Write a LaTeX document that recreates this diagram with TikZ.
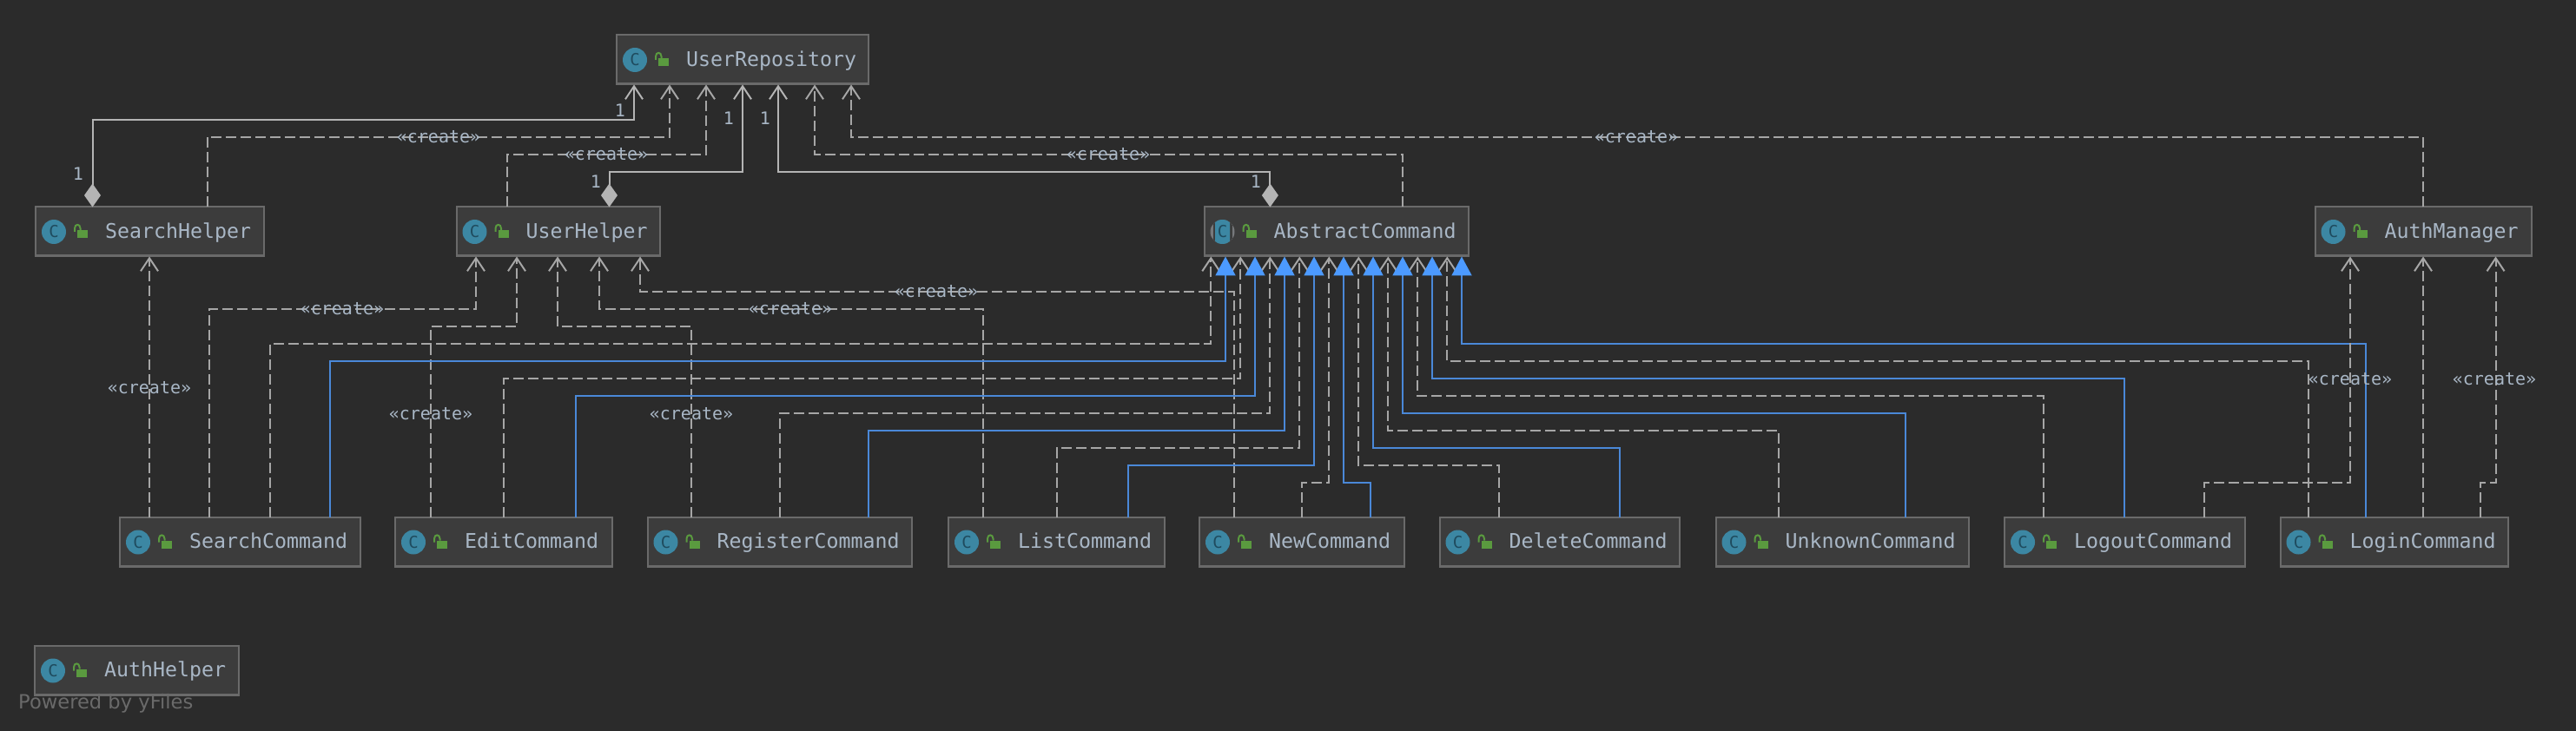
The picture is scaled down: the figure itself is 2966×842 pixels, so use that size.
\documentclass[tikz,border=0pt]{standalone}
\usepackage{fontspec}
\usetikzlibrary{arrows.meta,positioning}
\newfontfamily\umlfont{DejaVu Sans Mono}
\newfontfamily\markfont{DejaVu Sans}
\definecolor{canvasbg}{HTML}{2B2B2B}
\definecolor{boxfill}{HTML}{3C3C3C}
\definecolor{boxedge}{HTML}{6A6A6A}
\definecolor{nametext}{HTML}{A9B7C6}
\definecolor{edgegray}{HTML}{B4B4B4}
\definecolor{implblue}{HTML}{4A88D8}
\definecolor{tipblue}{HTML}{4C9AFF}
\definecolor{iconteal}{HTML}{3C87A3}
\definecolor{icondark}{HTML}{1F4B5E}
\definecolor{lockgreen}{HTML}{5A9A3F}
\tikzset{
  classbox/.style={draw=boxedge,fill=boxfill,line width=2pt,minimum height=57pt,inner sep=0pt,outer sep=0pt,anchor=west},
  classname/.style={text=nametext,font=\umlfont\fontsize{23.25}{28}\selectfont,inner sep=0pt,anchor=west,text height=19.7pt,text depth=5.2pt},
  classicon/.style={circle,fill=iconteal,minimum size=28pt,inner sep=0pt,text=icondark,font=\umlfont\fontsize{19}{20}\selectfont},
  abstracticon/.style={classicon,fill=boxedge!80!nametext,path picture={
    \fill[boxfill] ([xshift=-11pt,yshift=-15pt]path picture bounding box.center) rectangle ([xshift=11pt,yshift=15pt]path picture bounding box.center);
    \fill[iconteal,rounded corners=4pt] ([xshift=-8.5pt,yshift=-15pt]path picture bounding box.center) rectangle ([xshift=8.5pt,yshift=15pt]path picture bounding box.center);}},
  createlabel/.style={text=nametext,font=\umlfont\fontsize{20}{24}\selectfont,inner sep=0pt},
  multlabel/.style={text=nametext,font=\umlfont\fontsize{20}{24}\selectfont,inner sep=0pt},
  compose/.style={draw=edgegray,line width=2pt,{Diamond[length=27pt,width=19pt]}-{Straight Barb[length=15pt,width=20pt,line width=2pt]}},
  createdep/.style={draw=edgegray!92!black,line width=2pt,dash pattern=on 12pt off 5pt,-{Straight Barb[length=15pt,width=20pt,line width=2pt]}},
  implement/.style={draw=implblue,line width=2pt,-{Triangle[length=22pt,width=23pt,color=tipblue]}}
}
% name, left x, right x, centre y
\newcommand{\umlclass}[5][classicon]{%
  \node[classbox,minimum width={(#4-#3)*1pt}] (#2) at (#3,#5) {};
  \draw[boxedge,line width=3pt] ([yshift=1pt]#2.south west) -- ([yshift=1pt]#2.south east);
  \node[#1] (#2-icon) at ([xshift=21pt]#2.west) {C};
  \fill[lockgreen] ([xshift=48pt,yshift=2pt]#2.west) rectangle ++(12,9.5);
  \draw[lockgreen,line width=2pt] ([xshift=45pt]#2.west) -- ++(0,-4) .. controls +(0,-5.5) and +(0,-5.5) .. ++(6.5,0) -- ++(0,2);
  \node[classname] (#2-name) at ([xshift=80pt]#2.west) {#2};
}

\begin{document}
\begin{tikzpicture}[x=1pt,y=-1pt]
  \useasboundingbox (0,0) rectangle (2966,842);
  \fill[canvasbg] (0,0) rectangle (2966,842);

  % Top row
  \umlclass{UserRepository}{710}{1000}{69}
  \umlclass{SearchHelper}{41}{304}{267}
  \umlclass{UserHelper}{525.5}{760}{267}
  \umlclass[abstracticon]{AbstractCommand}{1386.5}{1691}{267}
  \umlclass{AuthManager}{2665.5}{2915}{267}

  % Commands
  \umlclass{SearchCommand}{138}{414.5}{624.5}
  \umlclass{EditCommand}{455}{705}{624.5}
  \umlclass{RegisterCommand}{745.5}{1050}{624.5}
  \umlclass{ListCommand}{1092}{1340.5}{624.5}
  \umlclass{NewCommand}{1381}{1617}{624.5}
  \umlclass{DeleteCommand}{1657.5}{1934}{624.5}
  \umlclass{UnknownCommand}{1975.5}{2266.5}{624.5}
  \umlclass{LogoutCommand}{2308}{2584.5}{624.5}
  \umlclass{LoginCommand}{2625.5}{2888}{624.5}

  \umlclass{AuthHelper}{40}{275}{772.5}
  \node[text=boxedge,font=\markfont\fontsize{22.6}{26}\selectfont,inner sep=0pt,anchor=west] (poweredby) at (21,810) {Powered by yFiles};

  % Holders of UserRepository
  \draw[compose] (106.5,0 |- SearchHelper.north) |- (730,138.3) -- (730,0 |- UserRepository.south);
  \draw[compose] (701.5,0 |- UserHelper.north) |- (855,198.3) -- (855,0 |- UserRepository.south);
  \draw[compose] (1462.4,0 |- AbstractCommand.north) |- (896,198.3) -- (896,0 |- UserRepository.south);

  % Create UserRepository
  \foreach \src/\sx/\lev/\tx in {SearchHelper/238.5/158.3/771,UserHelper/583.5/178.3/813,AbstractCommand/1615.4/178.3/938,AuthManager/2790/158.3/980}
    \draw[createdep] (\sx,0 |- \src.north) |- (\tx,\lev) -- (\tx,0 |- UserRepository.south);

  % Create helpers
  \draw[createdep] (172,0 |- SearchCommand.north) -- (172,0 |- SearchHelper.south);
  \foreach \src/\sx/\lev/\tx in {SearchCommand/241/356.3/548,EditCommand/496/376.3/595,RegisterCommand/796/376.3/642,ListCommand/1132/356.3/690,NewCommand/1421/336.3/737}
    \draw[createdep] (\sx,0 |- \src.north) |- (\tx,\lev) -- (\tx,0 |- UserHelper.south);

  % Create AbstractCommand
  \foreach \src/\sx/\lev/\tx in {SearchCommand/311/396.3/1394.3,EditCommand/580.4/436.3/1428.3,RegisterCommand/898/476.3/1462.3,ListCommand/1216.8/516.3/1496.3,NewCommand/1499/556.3/1530.3,DeleteCommand/1726/536.3/1564.3,UnknownCommand/2048/496.3/1598.3,LogoutCommand/2353/456.3/1632.3,LoginCommand/2658/416.3/1666.3}
    \draw[createdep] (\sx,0 |- \src.north) |- (\tx,\lev) -- (\tx,0 |- AbstractCommand.south);

  % Extend AbstractCommand
  \foreach \src/\sx/\lev/\tx in {SearchCommand/380/416.3/1411,EditCommand/663/456.3/1445,RegisterCommand/1000/496.3/1479,ListCommand/1299/536.3/1513,NewCommand/1578/556.3/1547,DeleteCommand/1865.4/516.3/1581,UnknownCommand/2194/476.3/1615,LogoutCommand/2446/436.3/1649,LoginCommand/2724/396.3/1683}
    \draw[implement] (\sx,0 |- \src.north) |- (\tx,\lev) -- (\tx,0 |- AbstractCommand.south);

  % Create AuthManager
  \draw[createdep] (2538,0 |- LogoutCommand.north) |- (2706,556.3) -- (2706,0 |- AuthManager.south);
  \draw[createdep] (2790,0 |- LoginCommand.north) -- (2790,0 |- AuthManager.south);
  \draw[createdep] (2856,0 |- LoginCommand.north) |- (2873.5,556.3) -- (2873.5,0 |- AuthManager.south);

  % Labels
  \foreach \lx/\ly [count=\i] in {505/158,698/178,1276/178,1884/158,172/446.7,394/356,496/476.7,796/476.7,910/356,1078/336,2706/436.7,2872/436.7}
    \node[createlabel] (create\i) at (\lx,\ly) {«create»};
  \foreach \lx/\ly [count=\i] in {714/127.7,90/200.7,839/136.7,686/209,881/136.7,1446/209}
    \node[multlabel] (mult\i) at (\lx,\ly) {1};
\end{tikzpicture}
\end{document}
